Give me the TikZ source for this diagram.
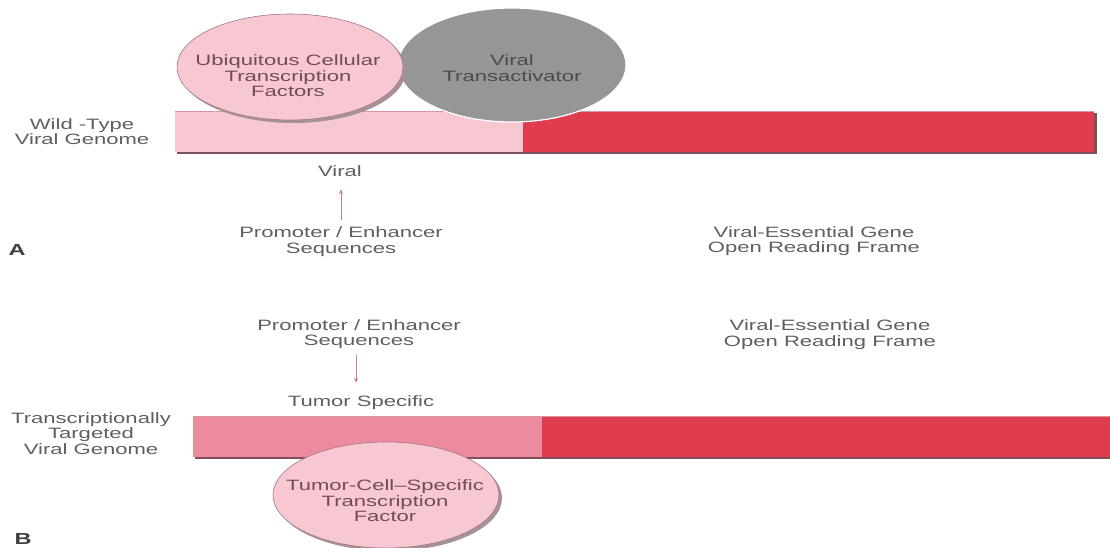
\documentclass[tikz,border=0pt]{standalone}
\usepackage{fontspec}
\setmainfont{Liberation Sans}[FakeStretch=1.47]
\usetikzlibrary{shapes.geometric}
\usetikzlibrary{calc}
\usetikzlibrary{arrows.meta}

\definecolor{pinkpale}{RGB}{247,200,210}
\definecolor{pinkmid}{RGB}{236,138,158}
\definecolor{genered}{RGB}{224,60,80}
\definecolor{barshade}{RGB}{125,80,90}
\definecolor{bartop}{RGB}{215,150,162}
\definecolor{factorrim}{RGB}{160,120,130}
\definecolor{factorink}{RGB}{115,75,88}
\definecolor{factorshade}{RGB}{165,145,150}
\definecolor{activgray}{RGB}{150,150,150}
\definecolor{activink}{RGB}{75,75,75}
\definecolor{labelink}{RGB}{95,95,95}
\definecolor{arrowpink}{RGB}{205,125,138}

\tikzset{
  lbl/.style={align=center, inner sep=0pt, text=labelink,
    font=\fontsize{15}{15.5}\selectfont},
  factor/.style={ellipse, draw=factorrim, fill=pinkpale, line width=0.6pt,
    inner sep=0pt, minimum width=226pt, minimum height=106pt},
  factorback/.style={ellipse, fill=factorshade, inner sep=0pt,
    minimum width=226pt, minimum height=106pt},
  activator/.style={ellipse, fill=activgray, draw=white, line width=1.2pt,
    inner sep=0pt, minimum width=228pt, minimum height=114pt},
  panel/.style={inner sep=0pt, text=black!75,
    font=\fontsize{16}{16}\selectfont\bfseries},
  pointer/.style={draw=arrowpink, line width=0.7pt,
    -{Stealth[length=5pt,width=4pt]}}
}

\begin{document}
\begin{tikzpicture}[x=1pt,y=-1pt]
  \useasboundingbox (0,0) rectangle (1110,548);
  \clip (0,0) rectangle (1110,548);
  \fill[white] (0,0) rectangle (1110,548);

  % panel A: wild-type genome
  \coordinate (A0) at (175,111);
  \coordinate (A1) at (523,152);
  \coordinate (A2) at (1094,152);
  \fill[barshade] ($(A0)+(2,2)$) rectangle ($(A2)+(3,2)$);
  \fill[pinkpale] (A0) rectangle (A1);
  \fill[genered] (A0 -| A1) rectangle (A2);
  \draw[bartop, line width=0.6pt] (A0) -- (A0 -| A2);

  \node[activator] (activ) at (512,65) {};
  \node[lbl, text=activink] (activtxt) at ($(activ)+(0,3)$) {Viral\\Transactivator};
  \node[factorback] at (293,70) {};
  \node[factor] (ubiq) at (290,67) {};
  \node[lbl, text=factorink] (ubiqtxt) at ($(ubiq)+(-2,9)$)
    {Ubiquitous Cellular\\Transcription\\Factors};

  \node[lbl] (wildtype) at (82,131.5) {Wild -Type\\Viral Genome};
  \node[lbl] (viralA) at (340,171.5) {Viral};
  \node[lbl] (promA) at (341,241.5) {Promoter / Enhancer\\Sequences};
  \node[lbl] (orfA) at (814,241) {Viral-Essential Gene\\Open Reading Frame};
  \node[panel] (labA) at (17,249.5) {A};
  \draw[pointer, shorten <=7pt, shorten >=12pt] (promA.north) -- (promA.north |- viralA.south);

  % panel B: transcriptionally targeted genome
  \coordinate (B0) at (193,416);
  \coordinate (B1) at (542,457);
  \coordinate (B2) at (1112,457);
  \fill[barshade] ($(B0)+(2,2)$) rectangle ($(B2)+(3,2)$);
  \fill[pinkmid] (B0) rectangle (B1);
  \fill[genered] (B0 -| B1) rectangle (B2);
  \draw[bartop, line width=0.6pt] (B0) -- (B0 -| B2);

  \node[factorback] at (389,498) {};
  \node[factor] (tcsf) at (386,495) {};
  \node[lbl, text=factorink] (tcsftxt) at ($(tcsf)+(-1,6)$)
    {Tumor-Cell--Specific\\Transcription\\Factor};

  \node[lbl] (promB) at (359,334) {Promoter / Enhancer\\Sequences};
  \node[lbl] (orfB) at (830,334.5) {Viral-Essential Gene\\Open Reading Frame};
  \node[lbl] (tumorspec) at (361,403) {Tumor Specific};
  \node[lbl] (targeted) at (91,433.5) {Transcriptionally\\Targeted\\Viral Genome};
  \node[panel] (labB) at (23,539) {B};
  \draw[pointer, shorten <=6pt, shorten >=13pt] ($(promB.south)+(-3,0)$) -- ($(promB.south |- tumorspec.north)+(-3,0)$);
\end{tikzpicture}
\end{document}
